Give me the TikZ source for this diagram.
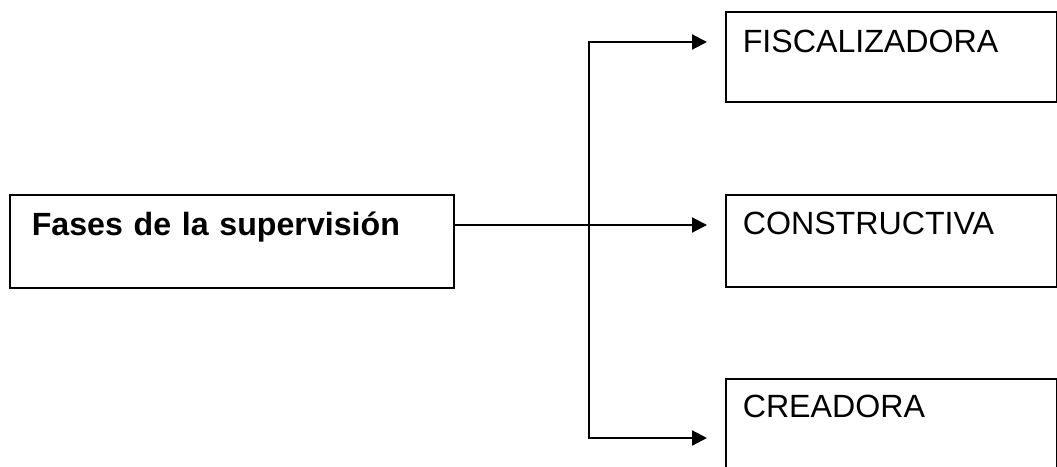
\documentclass[tikz,border=0pt]{standalone}
\usepackage{fontspec}
\setmainfont{Liberation Sans}
\usetikzlibrary{arrows.meta, positioning, calc}

\begin{document}
\begin{tikzpicture}[
    font=\fontsize{18.3}{22}\selectfont,
    mainbox/.style={rectangle, draw=black, line width=0.9pt, anchor=north west, align=left, inner xsep=0.44cm, inner ysep=0pt, text width=8cm, text height=0.81cm, text depth=1.05cm, font=\fontsize{18.3}{22}\selectfont\bfseries},
    phasebox/.style={rectangle, draw=black, line width=0.9pt, anchor=north west, align=left, inner xsep=0.34cm, inner ysep=0pt, text width=5.94cm, text height=0.79cm, text depth=1.05cm},
    arrow/.style={line width=1.2pt, -{Triangle[length=0.3cm, width=0.3cm]}, shorten >=0.36cm},
]
    \useasboundingbox (0,0) rectangle (21.14,-9.32);

    \node (fases) [mainbox] at (0.18,-3.88) {Fases de la supervisión};
    \node (fisc) [phasebox, text height=0.81cm, text depth=0.99cm] at (14.5,-0.22) {FISCALIZADORA};
    \node (constr) [phasebox] at (14.5,-3.88) {CONSTRUCTIVA};
    \node (creadora) [phasebox, text height=0.77cm] at (14.5,-7.56) {CREADORA};

    % branching point and the two elbows
    \coordinate (split) at (11.78,-4.5);
    \coordinate (upper) at (11.78,-0.84);
    \coordinate (lower) at (11.78,-8.76);

    \draw [arrow] (fases.east |- split) -- (constr.west |- split);
    \draw [arrow] (split) -- (upper) -- (fisc.west |- upper);
    \draw [arrow] (split) -- (lower) -- (creadora.west |- lower);
\end{tikzpicture}
\end{document}
